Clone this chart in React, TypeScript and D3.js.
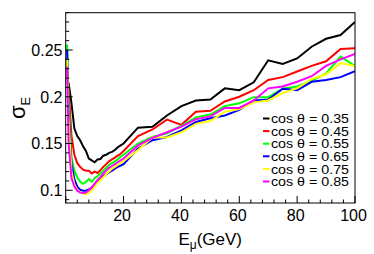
import React, { useEffect, useRef } from "react";
import * as d3 from "d3";

// energy resolution vs muon energy, one curve per zenith bin

const energies = [
  0.5, 1, 2, 3, 4, 5, 6, 7, 8, 9, 10, 11, 12, 13, 14, 15, 16, 17, 18, 19, 20,
  25, 30, 35, 40, 45, 50, 55, 60, 65, 70, 75, 80, 85, 90, 95, 100,
];

const cos035 = [
  null, 0.215, 0.193, 0.166, 0.158, 0.1535, 0.147, 0.142, 0.134, 0.132, 0.13, 0.133, 0.1335, 0.137, 0.138, 0.14, 0.141, 0.143, 0.146, 0.148, 0.15,
  0.167, 0.168, 0.18, 0.19, 0.196, 0.197, 0.209, 0.207, 0.2155, 0.239, 0.235, 0.241, 0.2535, 0.262, 0.266, 0.28,
];
const cos045 = [
  null, 0.207, 0.158, 0.138, 0.129, 0.125, 0.122, 0.121, 0.121, 0.118, 0.12, 0.1185, 0.1215, 0.125, 0.128, 0.131, 0.133, 0.135, 0.137, 0.139, 0.142,
  0.158, 0.165, 0.1755, 0.17, 0.184, 0.185, 0.195, 0.2, 0.207, 0.218, 0.221, 0.227, 0.233, 0.238, 0.251, 0.252,
];
const cos055 = [
  0.256, 0.197, 0.135, 0.121, 0.114, 0.109, 0.107, 0.109, 0.112, 0.109, 0.113, 0.115, 0.118, 0.121, 0.124, 0.127, 0.129, 0.131, 0.133, 0.136, 0.138,
  0.15, 0.157, 0.161, 0.169, 0.178, 0.181, 0.19, 0.193, 0.1996, 0.1996, 0.2085, 0.211, 0.217, 0.225, 0.243, 0.233,
];
const cos065 = [
  0.25, 0.186, 0.128, 0.112, 0.104, 0.1005, 0.0995, 0.0995, 0.101, 0.103, 0.106, 0.109, 0.112, 0.115, 0.117, 0.119, 0.121, 0.123, 0.125, 0.1265, 0.128,
  0.1447, 0.1535, 0.157, 0.164, 0.173, 0.177, 0.18, 0.186, 0.196, 0.197, 0.2085, 0.207, 0.216, 0.218, 0.221, 0.2275,
];
const cos075 = [
  0.24, 0.176, 0.12, 0.106, 0.1, 0.098, 0.0965, 0.096, 0.097, 0.1, 0.104, 0.108, 0.111, 0.114, 0.117, 0.12, 0.123, 0.125, 0.127, 0.129, 0.131,
  0.143, 0.1564, 0.1564, 0.162, 0.171, 0.174, 0.184, 0.187, 0.194, 0.196, 0.204, 0.209, 0.219, 0.224, 0.236, 0.233,
];
const cos085 = [
  0.232, 0.15, 0.113, 0.104, 0.0995, 0.0975, 0.097, 0.0975, 0.1, 0.103, 0.107, 0.111, 0.114, 0.118, 0.121, 0.124, 0.126, 0.128, 0.13, 0.132, 0.134,
  0.148, 0.156, 0.162, 0.168, 0.176, 0.179, 0.188, 0.188, 0.196, 0.209, 0.211, 0.216, 0.222, 0.233, 0.24, 0.2457,
];

const seriesNames = ["cos θ = 0.35", "cos θ = 0.45", "cos θ = 0.55", "cos θ = 0.65", "cos θ = 0.75", "cos θ = 0.85"];
const seriesValues = [cos035, cos045, cos055, cos065, cos075, cos085];
const seriesColors = ["#000000", "#ff0000", "#00ff00", "#0000ff", "#ffff00", "#ff00ff"];

const xTicks = [20, 40, 60, 80, 100];
const yTicks = [0.1, 0.15, 0.2, 0.25];

const FONT = "'Liberation Sans', Arial, Helvetica, sans-serif";

export default function App() {
  const svgRef = useRef<SVGSVGElement | null>(null);

  useEffect(() => {
    const svg = d3.select(svgRef.current);
    svg.selectAll("*").remove();

    const left = 65.7, right = 355, top = 12.7, bottom = 203;

    const x = d3.scaleLinear().domain([0, 100]).range([left, right]);
    const y = d3.scaleLinear().domain([0.0864, 0.2899]).range([bottom, top]);

    const clip = svg.append("defs").append("clipPath").attr("id", "plot-clip");
    clip.append("rect").attr("x", left).attr("y", top).attr("width", right - left).attr("height", bottom - top);

    // curves
    const line = d3
      .line<number | null>()
      .defined((d) => d != null)
      .x((d, i) => x(energies[i]))
      .y((d) => y(d as number));

    const curves = svg.append("g").attr("clip-path", "url(#plot-clip)");
    seriesValues.forEach((vals, k) => {
      curves
        .append("path")
        .datum(vals)
        .attr("fill", "none")
        .attr("stroke", seriesColors[k])
        .attr("stroke-width", 2)
        .attr("d", line);
    });

    // frame
    svg
      .append("rect")
      .attr("x", left)
      .attr("y", top)
      .attr("width", right - left)
      .attr("height", bottom - top)
      .attr("fill", "none")
      .attr("stroke", "#000")
      .attr("stroke-width", 1);

    // x ticks (inside)
    const xMinor = d3.range(0, 100.1, 4);
    svg
      .append("g")
      .selectAll("line")
      .data(xMinor)
      .join("line")
      .attr("x1", (d) => x(d))
      .attr("x2", (d) => x(d))
      .attr("y1", bottom)
      .attr("y2", (d) => (d % 20 === 0 ? bottom - 7 : bottom - 3.5))
      .attr("stroke", "#000");

    svg
      .append("g")
      .selectAll("text")
      .data(xTicks)
      .join("text")
      .attr("x", (d) => x(d) - 1.5)
      .attr("y", 220.5)
      .attr("text-anchor", "middle")
      .attr("font-family", FONT)
      .attr("font-size", 16)
      .text((d) => d);

    // y ticks (inside)
    const yMinor = d3.range(9, 29.1, 1).map((v) => v / 100);
    svg
      .append("g")
      .selectAll("line")
      .data(yMinor)
      .join("line")
      .attr("x1", left)
      .attr("x2", (d) => (Math.round(d * 100) % 5 === 0 ? left + 7 : left + 3.5))
      .attr("y1", (d) => y(d))
      .attr("y2", (d) => y(d))
      .attr("stroke", "#000");

    svg
      .append("g")
      .selectAll("text")
      .data(yTicks)
      .join("text")
      .attr("x", 62.5)
      .attr("y", (d) => y(d) + 5.8)
      .attr("text-anchor", "end")
      .attr("font-family", FONT)
      .attr("font-size", 16)
      .text((d) => d3.format("")(d));

    // axis titles
    const xt = svg
      .append("text")
      .attr("x", 242)
      .attr("y", 245)
      .attr("text-anchor", "end")
      .attr("font-family", FONT)
      .attr("font-size", 17);
    xt.append("tspan").text("E");
    xt.append("tspan").attr("font-size", 12).attr("dy", 4).text("μ");
    xt.append("tspan").attr("dy", -4).text("(GeV)");

    const yt = svg
      .append("text")
      .attr("transform", "translate(25,119) rotate(-90)")
      .attr("font-family", FONT)
      .attr("font-size", 22);
    yt.append("tspan").text("σ");
    yt.append("tspan").attr("font-size", 13).attr("dy", 5).text("E");

    // legend
    const leg = svg.append("g");
    seriesNames.forEach((name, k) => {
      const cy = 118.5 + k * 12.6;
      leg
        .append("line")
        .attr("x1", 263)
        .attr("x2", 269.5)
        .attr("y1", cy)
        .attr("y2", cy)
        .attr("stroke", seriesColors[k])
        .attr("stroke-width", 2);
      leg
        .append("text")
        .attr("x", 271)
        .attr("y", cy + 4.6)
        .attr("font-family", FONT)
        .attr("font-size", 12.5)
        .attr("textLength", 78)
        .attr("lengthAdjust", "spacingAndGlyphs")
        .text(name);
    });
  }, []);

  return (
    <svg
      ref={svgRef}
      width={374}
      height={254}
      style={{ position: "absolute", left: 0, top: 0, background: "#fff" }}
    />
  );
}
